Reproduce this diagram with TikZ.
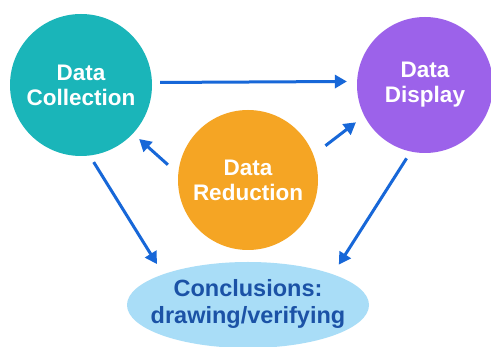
\documentclass[tikz,border=0pt]{standalone}
\usepackage{fontspec}
\setmainfont{Liberation Sans}
\usetikzlibrary{shapes.geometric,arrows.meta}
\definecolor{teal1}{HTML}{1AB5B9}
\definecolor{purple1}{HTML}{9C62EA}
\definecolor{orange1}{HTML}{F5A524}
\definecolor{sky1}{HTML}{A9DDF7}
\definecolor{navy1}{HTML}{1B52A6}
\definecolor{arrow1}{HTML}{1767D8}
\tikzset{
  bubble/.style={circle, inner sep=0pt, text=white, align=center,
    font=\bfseries\fontsize{22.5}{25}\selectfont},
  concl/.style={ellipse, fill=sky1, inner sep=0pt, minimum width=242pt, minimum height=86pt},
  concltext/.style={text=navy1, align=center, inner sep=0pt,
    font=\bfseries\fontsize{23.5}{27}\selectfont},
  flow/.style={draw=arrow1, line width=3pt, -{Triangle[length=12pt,width=13pt]}}
}
\begin{document}
\begin{tikzpicture}[x=1pt,y=-1pt]
\fill[white] (0,0) rectangle (491,347);
\useasboundingbox (0,0) rectangle (491,347);
\node[bubble, fill=teal1, minimum size=142pt] (dc) at (81,85) {Data\\Collection};
\node[bubble, fill=purple1, minimum size=136pt] (dd) at (425,85) {Data\\Display};
\node[bubble, fill=orange1, minimum size=140pt] (dr) at (248,180) {Data\\Reduction};
\node[concl] (cl) at (248,305) {};
\node[concltext] (clt) at (248,304) {Conclusions:\\drawing/verifying};
\draw[flow, shorten <=8pt, shorten >=10pt] (dc.2.4) -- (dd.177.5);
\draw[flow, shorten <=13.7pt, shorten >=8.2pt] (dr.175.3) -- (dc.-43.1);
\draw[flow, shorten <=15pt, shorten >=10.4pt] (dr.21.8) -- (dd.207);
\draw[flow, shorten <=7.6pt, shorten >=11.8pt] (dc.-83.5) -- (cl.160.5);
\draw[flow, shorten <=7.9pt, shorten >=11.2pt] (dd.-102.5) -- (cl.20.3);
\end{tikzpicture}
\end{document}
